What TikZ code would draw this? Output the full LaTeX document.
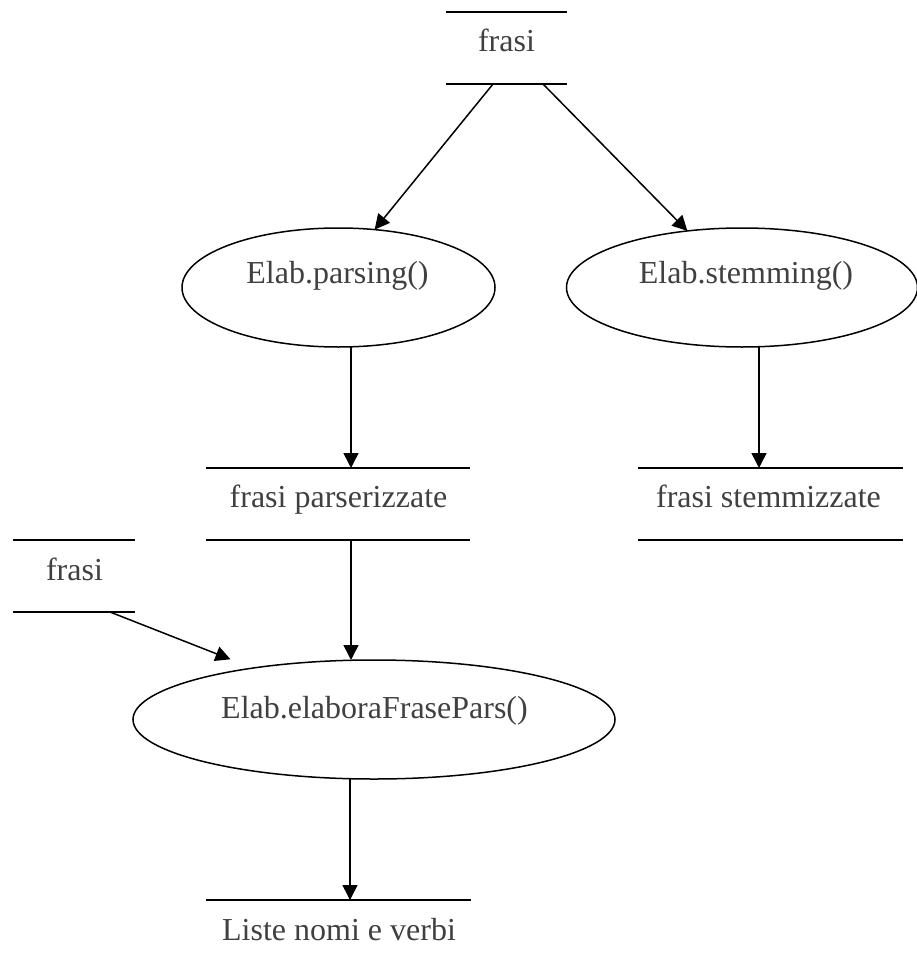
\documentclass[tikz,border=0pt]{standalone}
\usepackage{fontspec}
\setmainfont{Liberation Serif}
\usetikzlibrary{arrows.meta,shapes.geometric}

\definecolor{inkgray}{HTML}{404040}

\tikzset{
  x=1pt, y=-1pt,
  rule/.style={line width=1.5pt},
  arr/.style={line width=1.5pt, -{Triangle[length=15pt,width=15pt]}},
  store/.style={draw=none, inner sep=0pt, outer sep=0pt, minimum height=72pt},
  proc/.style={ellipse, draw, line width=1.5pt, inner sep=0pt, outer sep=0pt, minimum height=119pt},
  lbl/.style={anchor=base, inner sep=0pt, text=inkgray, font=\fontsize{32}{38}\selectfont},
}

\begin{document}
\begin{tikzpicture}
\useasboundingbox (0,0) rectangle (917,971);

% data stores (two horizontal rules each)
\node[store, minimum width=121pt] (s1) at (506.5,48) {};
\node[store, minimum width=264pt] (s2) at (338,504) {};
\node[store, minimum width=265pt] (s3) at (770.5,504) {};
\node[store, minimum width=122pt] (s4) at (74,576) {};
\node[store, minimum width=265pt] (s5) at (338.5,936) {};
\foreach \s in {s1,s2,s3,s4}
  \draw[rule] (\s.north west) -- (\s.north east) (\s.south west) -- (\s.south east);
\draw[rule] (s5.north west) -- (s5.north east);

% processes
\node[proc, minimum width=313pt] (e1) at (338.5,287.5) {};
\node[proc, minimum width=351pt] (e2) at (742,287.5) {};
\node[proc, minimum width=482pt] (e3) at (374,719.5) {};

% labels
\node[lbl] (t1) at (506.5,52) {frasi};
\node[lbl] (t2) at (338.5,507) {frasi parserizzate};
\node[lbl] (t3) at (768.5,507) {frasi stemmizzate};
\node[lbl] (t4) at (74.5,580) {frasi};
\node[lbl] (t5) at (339,940) {Liste nomi e verbi};
\node[lbl] (te1) at (337.5,283) {Elab.parsing()};
\node[lbl] (te2) at (746,283) {Elab.stemming()};
\node[lbl] (te3) at (374.5,718) {Elab.elaboraFrasePars()};

% flows
\draw[arr] ([xshift=-13.5pt]s1.south) -- (e1.58);
\draw[arr] ([xshift=36.5pt]s1.south) -- (e2.134);
\draw[arr] ([xshift=12.5pt]e1.south) -- ([xshift=12.5pt]e1.south |- s2.north);
\draw[arr] ([xshift=17pt]e2.south) -- ([xshift=17pt]e2.south |- s3.north);
\draw[arr] ([xshift=13pt]s2.south) -- ([xshift=13pt]s2.south |- e3.north);
\draw[arr, shorten >=24pt] ([xshift=36pt]s4.south) -- (e3.157);
\draw[arr] ([xshift=-24pt]e3.south) -- ([xshift=-24pt]e3.south |- s5.north);
\end{tikzpicture}
\end{document}
